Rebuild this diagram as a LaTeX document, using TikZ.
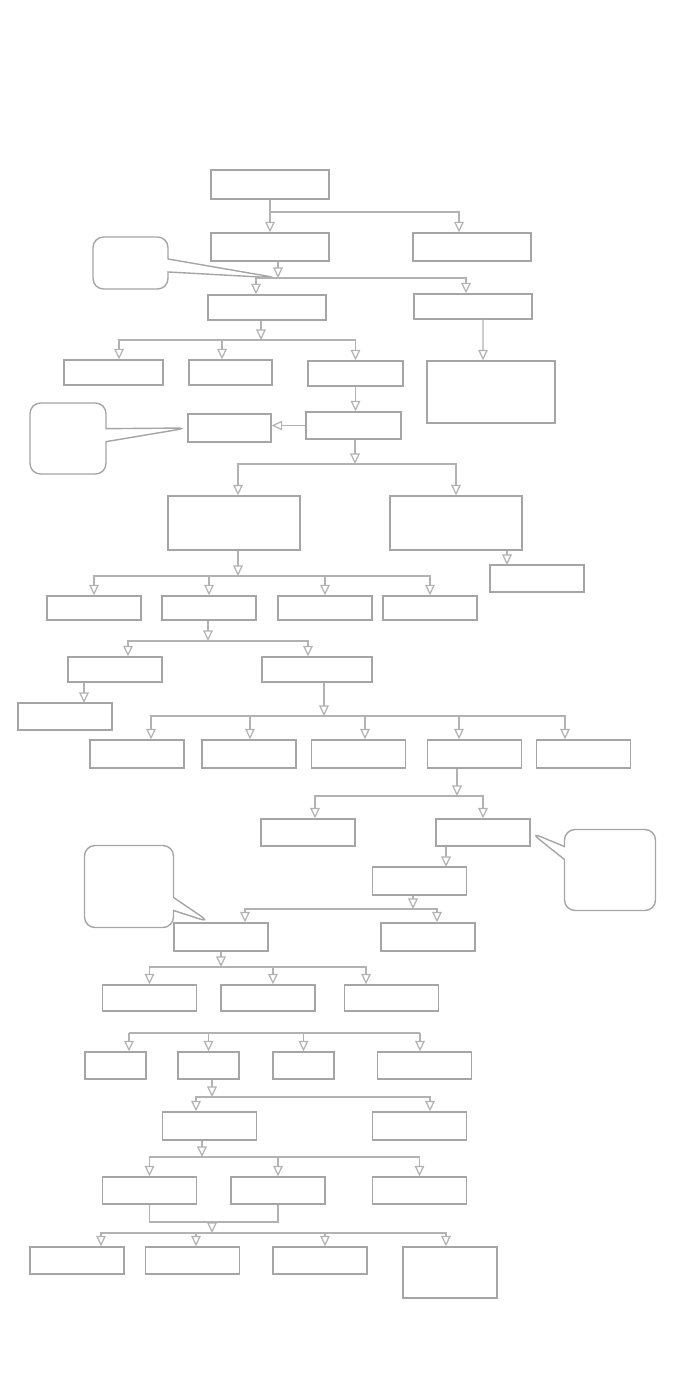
\documentclass[tikz,border=0pt]{standalone}
\usepackage{tikz}
\usetikzlibrary{arrows.meta,positioning,shapes.callouts}
\definecolor{boxgray}{RGB}{165,165,165}
\definecolor{linegray}{RGB}{178,178,178}

\begin{document}
\begin{tikzpicture}[x=0.02cm,y=-0.02cm,
    box/.style={draw=boxgray,line width=0.8pt,minimum width=1.88cm,
                minimum height=0.54cm,inner sep=0pt},
    wide/.style={box,minimum width=2.36cm},
    small/.style={box,minimum width=1.22cm},
    note/.style={rectangle callout,draw=boxgray,line width=0.8pt,
                 rounded corners=6pt,callout pointer width=0.26cm,inner sep=0pt},
    arr/.style={draw=linegray,line width=0.7pt,
                -{Triangle[open,length=6pt,width=5.5pt]}},
    link/.style={draw=linegray,line width=0.7pt}]
  \useasboundingbox (0,0) rectangle (677,1394);
  % junctions of the connectors
  \coordinate (j1) at (270,212);
  \coordinate (j2) at (278,278);
  \coordinate (j3) at (261,340);
  \coordinate (j4) at (355,464);
  \coordinate (j5) at (238,576);
  \coordinate (k6) at (507,565);
  \coordinate (j7) at (208,641);
  \coordinate (k1) at (84,703);
  \coordinate (j8) at (324,716);
  \coordinate (j9) at (457,796);
  \coordinate (k2) at (446,867);
  \coordinate (j10) at (413,909);
  \coordinate (j11) at (221,967);
  \coordinate (gL) at (129,1033);
  \coordinate (gR) at (420,1033);
  \coordinate (j12) at (212,1097);
  \coordinate (j13) at (202,1157);
  \coordinate (m) at (212,1222);
  \coordinate (j14) at (212,1233);
  % upper part
  \node[wide,minimum height=0.58cm] (start) at (270,184.5) {};
  \node[wide,minimum height=0.56cm] (left1) at (270,247) {};
  \node[wide,minimum height=0.56cm] (right1) at (472,247) {};
  \node[wide,minimum height=0.5cm] (left2) at (267,307.5) {};
  \node[wide,minimum height=0.5cm] (right2) at (473,306.5) {};
  \node[box,minimum width=1.98cm,minimum height=0.5cm] (opt1) at (113.5,372.5) {};
  \node[box,minimum width=1.66cm,minimum height=0.5cm] (opt2) at (230.5,372.5) {};
  \node[box,minimum width=1.9cm,minimum height=0.5cm] (opt3) at (355.5,373.5) {};
  \node[box,minimum width=2.56cm,minimum height=1.24cm] (panel) at (491,392) {};
  \node[box,minimum width=1.9cm] (check) at (353.5,425.5) {};
  \node[box,minimum width=1.66cm,minimum height=0.56cm] (reject) at (229.5,428) {};
  \node[note,minimum width=1.5cm,minimum height=1.04cm,
        callout absolute pointer={(j2)}] (note1) at (130.5,263) {};
  \node[note,minimum width=1.52cm,minimum height=1.42cm,
        callout absolute pointer={(reject.west)}] (note2) at (68,438.5) {};
  \node[box,minimum width=2.64cm,minimum height=1.08cm] (split1) at (234,523) {};
  \node[box,minimum width=2.64cm,minimum height=1.08cm] (split2) at (456,523) {};
  \node[box] (side) at (537,578.5) {};
  % middle part
  \foreach \n/\x in {a1/94,a2/209,a3/325,a4/430}
    \node[box,minimum height=0.48cm] (\n) at (\x,608) {};
  \node[box,minimum height=0.5cm] (r1) at (115,669.5) {};
  \node[box,minimum width=2.2cm,minimum height=0.5cm] (r2) at (317,669.5) {};
  \node[box] (leaf) at (65,716.5) {};
  \foreach \n/\x in {c1/137,c2/249,c3/358.5,c4/474.5,c5/583.5}
    \node[box,minimum height=0.56cm] (\n) at (\x,754) {};
  \node[box] (d1) at (308,832.5) {};
  \node[box] (d2) at (483,832.5) {};
  \node[note,minimum width=1.82cm,minimum height=1.62cm,
        callout absolute pointer={(d2.east)}] (note3) at (610,870) {};
  \node[box,minimum height=0.56cm] (e0) at (419.5,881) {};
  \node[box,minimum height=0.56cm] (e1) at (221,937) {};
  \node[box,minimum height=0.56cm] (e2) at (428,937) {};
  \node[note,minimum width=1.78cm,minimum height=1.64cm,
        callout absolute pointer={([xshift=-0.22cm]e1.north)}] (note4) at (129,886.5) {};
  % lower part
  \foreach \n/\x in {f1/149.5,f2/268,f3/391.5}
    \node[box,minimum height=0.52cm] (\n) at (\x,998) {};
  \foreach \n/\x in {g1/115.5,g2/208.5,g3/303.5}
    \node[small] (\n) at (\x,1065.5) {};
  \node[box] (g4) at (424.5,1065.5) {};
  \node[box,minimum height=0.56cm] (h1) at (209.5,1126) {};
  \node[box,minimum height=0.56cm] (h2) at (419.5,1126) {};
  \foreach \n/\x in {i1/149.5,i2/278,i3/419.5}
    \node[box] (\n) at (\x,1190.5) {};
  \foreach \n/\x in {o1/77,o2/192.5,o3/320}
    \node[box] (\n) at (\x,1260.5) {};
  \node[box,minimum height=1.02cm] (o4) at (450,1272.5) {};

  % connectors
  \draw[arr] (start) -- (left1);
  \draw[arr] (j1) -| ([xshift=-0.26cm]right1.north);
  \draw[arr] (left1.south -| j2) -- (j2);
  \draw[arr] (j2) -| ([xshift=-0.22cm]left2.north);
  \draw[arr] (j2) -| ([xshift=-0.14cm]right2.north);
  \draw[arr] (left2.south -| j3) -- (j3);
  \draw[arr] (j3) -| ([xshift=0.11cm]opt1.north);
  \draw[arr] (j3) -| ([xshift=-0.17cm]opt2.north);
  \draw[arr] (j3) -| (opt3.north);
  \draw[arr] ([xshift=0.2cm]right2.south) -- ([xshift=-0.16cm]panel.north);
  \draw[arr] (opt3.south) -- (opt3.south |- check.north);
  \draw[arr] (check.west) -- (check.west -| reject.east);
  \draw[arr] (check.south -| j4) -- (j4);
  \draw[arr] (j4) -| ([xshift=0.08cm]split1.north);
  \draw[arr] (j4) -| (split2.north);
  \draw[arr] (split1.south -| j5) -- (j5);
  \foreach \n in {a1,a2,a3,a4}
    \draw[arr] (j5) -| (\n.north);
  \draw[arr] (split2.south -| k6) -- (k6);
  \draw[arr] (a2.south -| j7) -- (j7);
  \draw[arr] (j7) -| ([xshift=0.26cm]r1.north);
  \draw[arr] (j7) -| ([xshift=-0.18cm]r2.north);
  \draw[arr] (r1.south -| k1) -- (k1);
  \draw[arr] (r2.south -| j8) -- (j8);
  \foreach \n/\s in {c1/0.28,c2/0.02,c3/0.13,c4/-0.31,c5/-0.37}
    \draw[arr] (j8) -| ([xshift=\s cm]\n.north);
  \draw[arr] (c4.south -| j9) -- (j9);
  \draw[arr] (j9) -| ([xshift=0.14cm]d1.north);
  \draw[arr] (j9) -| (d2.north);
  \draw[arr] (d2.south -| k2) -- (k2);
  \draw[arr] (e0.south -| j10) -- (j10);
  \draw[arr] (j10) -| ([xshift=0.48cm]e1.north);
  \draw[arr] (j10) -| ([xshift=0.18cm]e2.north);
  \draw[arr] (e1.south -| j11) -- (j11);
  \draw[arr] (j11) -| (f1.north);
  \draw[arr] (j11) -| ([xshift=0.1cm]f2.north);
  \draw[arr] (j11) -| ([xshift=-0.51cm]f3.north);
  \draw[link] (gL) -- (gR);
  \draw[arr] (gL) -- (gL |- g1.north);
  \foreach \n in {g2,g3}
    \draw[arr] (\n.north |- gL) -- (\n.north);
  \draw[arr] (gR) -- (gR |- g4.north);
  \draw[arr] (g2.south -| j12) -- (j12);
  \draw[arr] (j12) -| ([xshift=-0.27cm]h1.north);
  \draw[arr] (j12) -| ([xshift=0.21cm]h2.north);
  \draw[arr] (h1.south -| j13) -- (j13);
  \foreach \n in {i1,i2,i3}
    \draw[arr] (j13) -| (\n.north);
  \draw[link] (i1.south) |- (m) -| (i2.south);
  \draw[arr] (m) -- (j14);
  \foreach \n/\s in {o1/0.48,o2/0.07,o3/0.1,o4/-0.08}
    \draw[arr] (j14) -| ([xshift=\s cm]\n.north);
\end{tikzpicture}
\end{document}
